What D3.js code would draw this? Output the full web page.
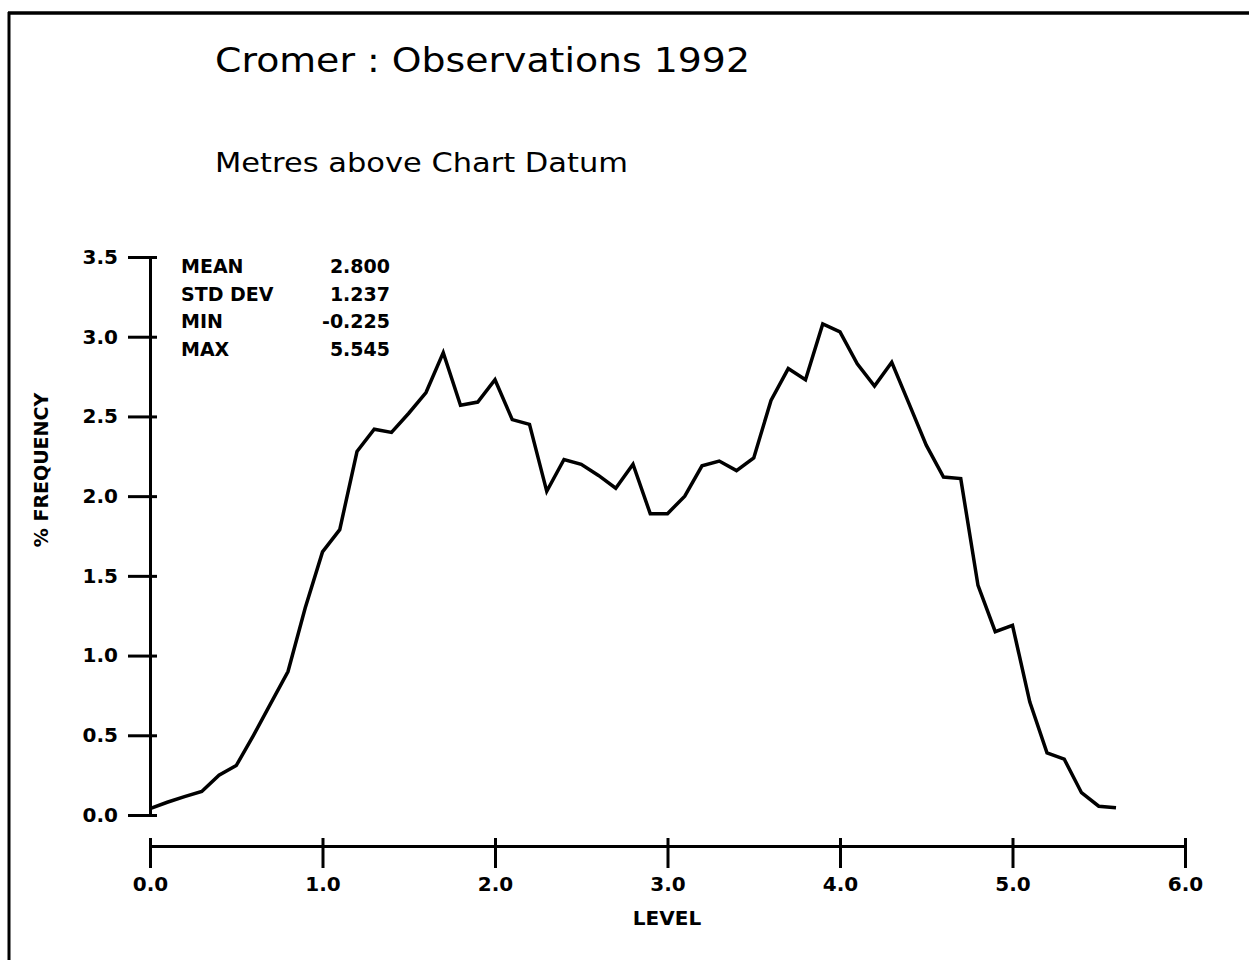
<!DOCTYPE html>
<html>
<head>
<meta charset="utf-8">
<script src="https://cdn.jsdelivr.net/npm/d3@7"></script>
<style>
  html, body { margin: 0; padding: 0; background: #fff; }
  svg { display: block; }
  text { font-family: "DejaVu Sans", sans-serif; fill: #000; }
  .axis text { font-weight: bold; font-size: 20px; }
  .axis path, .axis line { stroke: #000; stroke-width: 3; }
</style>
</head>
<body>
<svg id="chart" width="1249" height="978"></svg>
<script>
// Level (metres above chart datum) and % frequency
const levels = [0.0, 0.1, 0.2, 0.3, 0.4, 0.5, 0.6, 0.7, 0.8, 0.9,
  1.0, 1.1, 1.2, 1.3, 1.4, 1.5, 1.6, 1.7, 1.8, 1.9,
  2.0, 2.1, 2.2, 2.3, 2.4, 2.5, 2.6, 2.7, 2.8, 2.9,
  3.0, 3.1, 3.2, 3.3, 3.4, 3.5, 3.6, 3.7, 3.8, 3.9,
  4.0, 4.1, 4.2, 4.3, 4.4, 4.5, 4.6, 4.7, 4.8, 4.9,
  5.0, 5.1, 5.2, 5.3, 5.4, 5.5, 5.6];
const frequency = [0.04, 0.08, 0.115, 0.148, 0.25, 0.31, 0.50, 0.70, 0.90, 1.30,
  1.65, 1.79, 2.28, 2.42, 2.40, 2.52, 2.65, 2.90, 2.57, 2.59,
  2.73, 2.48, 2.45, 2.03, 2.23, 2.20, 2.13, 2.05, 2.20, 1.89,
  1.89, 2.00, 2.19, 2.22, 2.16, 2.24, 2.60, 2.80, 2.73, 3.08,
  3.03, 2.83, 2.69, 2.84, 2.58, 2.32, 2.12, 2.11, 1.44, 1.15,
  1.19, 0.71, 0.39, 0.35, 0.14, 0.055, 0.045];

const xTicks = [0, 1, 2, 3, 4, 5, 6];
const yTicks = [0, 0.5, 1.0, 1.5, 2.0, 2.5, 3.0, 3.5];

const statLabels = ['MEAN', 'STD DEV', 'MIN', 'MAX'];
const statValues = ['2.800', '1.237', '-0.225', '5.545'];

const svg = d3.select('#chart');

const x = d3.scaleLinear().domain([0, 6]).range([150, 1185]);
const y = d3.scaleLinear().domain([0, 3.5]).range([815, 257]);

// page frame (top and left edges only, as on the plot)
svg.append('line')
  .attr('x1', 8).attr('x2', 1249).attr('y1', 13).attr('y2', 13)
  .attr('stroke', '#000').attr('stroke-width', 3.5);
svg.append('line')
  .attr('x1', 9).attr('x2', 9).attr('y1', 12).attr('y2', 960)
  .attr('stroke', '#000').attr('stroke-width', 3);

// titles
svg.append('text')
  .attr('x', 215).attr('y', 72)
  .attr('font-size', 34)
  .attr('textLength', 535).attr('lengthAdjust', 'spacingAndGlyphs')
  .text('Cromer : Observations 1992');

svg.append('text')
  .attr('x', 215).attr('y', 172)
  .attr('font-size', 27)
  .attr('textLength', 413).attr('lengthAdjust', 'spacingAndGlyphs')
  .text('Metres above Chart Datum');

// y axis
const yAxis = svg.append('g')
  .attr('class', 'axis')
  .attr('transform', 'translate(150,0)')
  .call(d3.axisLeft(y).tickValues(yTicks).tickFormat(d3.format('.1f')).tickSizeOuter(0));
yAxis.selectAll('.tick line').attr('x1', 7).attr('x2', -22);
yAxis.selectAll('.tick text').attr('x', -32);

// x axis
const xAxis = svg.append('g')
  .attr('class', 'axis')
  .attr('transform', 'translate(0,846)')
  .call(d3.axisBottom(x).tickValues(xTicks).tickFormat(d3.format('.1f')).tickSizeOuter(0));
xAxis.selectAll('.tick line').attr('y1', -8).attr('y2', 22);
xAxis.selectAll('.tick text').attr('y', 31);

// axis titles
svg.append('text')
  .attr('x', 667).attr('y', 925)
  .attr('text-anchor', 'middle')
  .attr('font-weight', 'bold').attr('font-size', 20)
  .text('LEVEL');

svg.append('text')
  .attr('transform', 'translate(48,470) rotate(-90)')
  .attr('text-anchor', 'middle')
  .attr('font-weight', 'bold').attr('font-size', 19)
  .text('% FREQUENCY');

// statistics block
const stats = svg.append('g');
stats.selectAll('text.lab')
  .data(statLabels)
  .enter().append('text')
  .attr('class', 'lab')
  .attr('x', 181)
  .attr('y', (d, i) => 273 + i * 27.7)
  .attr('font-weight', 'bold').attr('font-size', 19)
  .text(d => d);
stats.selectAll('text.val')
  .data(statValues)
  .enter().append('text')
  .attr('class', 'val')
  .attr('x', 390)
  .attr('y', (d, i) => 273 + i * 27.7)
  .attr('text-anchor', 'end')
  .attr('font-weight', 'bold').attr('font-size', 19)
  .text(d => d);

// frequency curve
const line = d3.line()
  .x((d, i) => x(levels[i]))
  .y(d => y(d));

svg.append('path')
  .datum(frequency)
  .attr('d', line)
  .attr('fill', 'none')
  .attr('stroke', '#000')
  .attr('stroke-width', 3.5)
  .attr('stroke-linejoin', 'miter');
</script>
</body>
</html>
